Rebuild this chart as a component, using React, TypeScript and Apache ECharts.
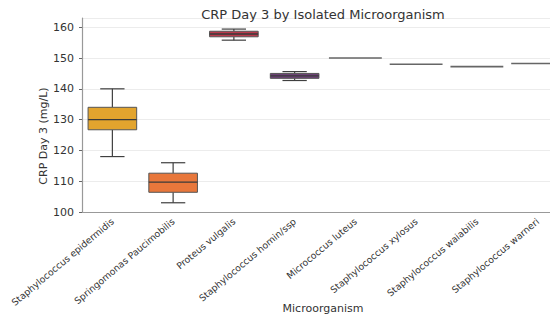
import React, { useEffect, useRef } from "react";
import * as echarts from "echarts";

const categories = [
  "Staphylococcus epidermidis",
  "Springomonas Paucimobilis",
  "Proteus vulgalis",
  "Staphylococcus homin/ssp",
  "Micrococcus luteus",
  "Staphylococcus xylosus",
  "Staphylococcus waiabilis",
  "Staphylococcus warneri",
];
const lowWhisker = [118, 103, 155.8, 142.7, 150, 148, 147.2, 148.2];
const q1Values = [126.7, 106.4, 156.9, 143.4, 150, 148, 147.2, 148.2];
const medianValues = [130, 109.7, 157.8, 144.2, 150, 148, 147.2, 148.2];
const q3Values = [134, 112.6, 158.7, 145, 150, 148, 147.2, 148.2];
const highWhisker = [140, 116, 159.4, 145.6, 150, 148, 147.2, 148.2];
const boxColors = ["#E2A42E", "#E8773B", "#B93A4C", "#6C4276", "#666666", "#666666", "#666666", "#666666"];
const yTicks = [100, 110, 120, 130, 140, 150, 160];

const FONT = "DejaVu Sans";

export default function App() {
  const ref = useRef<HTMLDivElement>(null);
  useEffect(() => {
    if (!ref.current) return;
    const chart = echarts.init(ref.current, null, { renderer: "svg" });
    const data = categories.map((_, i) => [
      i,
      lowWhisker[i],
      q1Values[i],
      medianValues[i],
      q3Values[i],
      highWhisker[i],
    ]);
    const option: any = {
      animation: false,
      backgroundColor: "#ffffff",
      title: {
        text: "CRP Day 3 by Isolated Microorganism",
        left: 318,
        textAlign: "center",
        top: 3,
        textStyle: { fontFamily: FONT, fontSize: 13, fontWeight: "normal", color: "#333" },
      },
      grid: { left: 82, top: 18, width: 486, bottom: 113, containLabel: false, outerBoundsMode: "none" },
      xAxis: {
        type: "category",
        data: categories,
        boundaryGap: true,
        axisLine: { lineStyle: { color: "#999", width: 1.2 } },
        axisTick: { alignWithLabel: true, inside: true, length: 3, lineStyle: { color: "#666" } },
        axisLabel: { rotate: 40, fontFamily: FONT, fontSize: 9.3, color: "#333", margin: 8, interval: 0 },
        splitLine: { show: false },
      },
      yAxis: {
        type: "value",
        min: yTicks[0],
        max: 163,
        interval: 10,
        axisLine: { show: true, lineStyle: { color: "#999", width: 1.2 } },
        axisTick: { show: true, length: 3, lineStyle: { color: "#666" } },
        axisLabel: {
          fontFamily: FONT,
          fontSize: 11,
          color: "#333",
          margin: 8,
          showMaxLabel: false,
          formatter: (v: number) => (yTicks.indexOf(v) >= 0 ? String(v) : ""),
        },
        splitLine: { lineStyle: { color: "#ececec", width: 1 } },
      },
      graphic: [
        {
          type: "text",
          x: 43,
          y: 136,
          rotation: Math.PI / 2,
          style: {
            text: "CRP Day 3 (mg/L)",
            fontFamily: FONT,
            fontSize: 11,
            fill: "#333",
            align: "center",
            verticalAlign: "middle",
          },
        },
        {
          type: "text",
          x: 323,
          y: 308,
          style: {
            text: "Microorganism",
            fontFamily: FONT,
            fontSize: 11,
            fill: "#333",
            align: "center",
            verticalAlign: "middle",
          },
        },
      ],
      series: [
        {
          type: "custom",
          data,
          renderItem: (params: any, api: any) => {
            const idx = api.value(0);
            const lo = api.coord([idx, api.value(1)]);
            const q1 = api.coord([idx, api.value(2)]);
            const med = api.coord([idx, api.value(3)]);
            const q3 = api.coord([idx, api.value(4)]);
            const hi = api.coord([idx, api.value(5)]);
            const band = api.size([1, 0])[0];
            const cx = lo[0];
            const color = boxColors[params.dataIndex];
            const flat = api.value(2) === api.value(4);
            if (flat) {
              const hw = band * 0.435;
              return {
                type: "line",
                shape: { x1: cx - hw, y1: med[1], x2: cx + hw, y2: med[1] },
                style: { stroke: color, lineWidth: 1.6 },
              };
            }
            const hw = band * 0.4;
            const cw = band * 0.2;
            const stroke = "#3f3f3f";
            return {
              type: "group",
              children: [
                { type: "line", shape: { x1: cx, y1: lo[1], x2: cx, y2: q1[1] }, style: { stroke, lineWidth: 1.2 } },
                { type: "line", shape: { x1: cx, y1: q3[1], x2: cx, y2: hi[1] }, style: { stroke, lineWidth: 1.2 } },
                { type: "line", shape: { x1: cx - cw, y1: lo[1], x2: cx + cw, y2: lo[1] }, style: { stroke, lineWidth: 1.2 } },
                { type: "line", shape: { x1: cx - cw, y1: hi[1], x2: cx + cw, y2: hi[1] }, style: { stroke, lineWidth: 1.2 } },
                {
                  type: "rect",
                  shape: { x: cx - hw, y: q3[1], width: hw * 2, height: q1[1] - q3[1] },
                  style: { fill: color, stroke: "#555", lineWidth: 1 },
                },
                { type: "line", shape: { x1: cx - hw, y1: med[1], x2: cx + hw, y2: med[1] }, style: { stroke: "#3a3a3a", lineWidth: 1.4 } },
              ],
            };
          },
        },
      ],
    };
    chart.setOption(option);
    return () => chart.dispose();
  }, []);
  return <div ref={ref} style={{ width: 550, height: 325, position: "absolute", left: 0, top: 0 }} />;
}
